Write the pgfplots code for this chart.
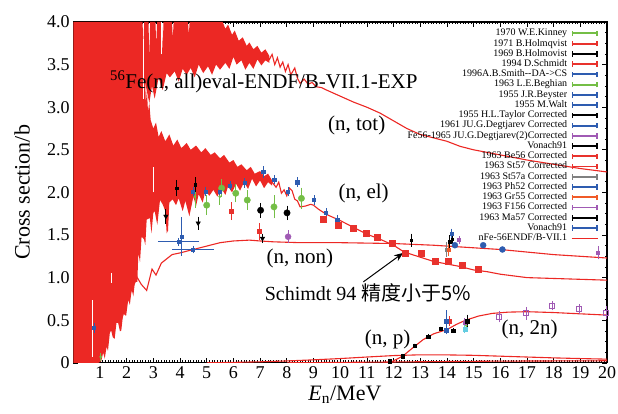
\documentclass[border=0pt]{standalone}
\usepackage{fontspec}
\setmainfont{Liberation Serif}
\newfontfamily\cjk{Noto Sans CJK SC}
\usepackage{pgfplots}
\pgfplotsset{compat=1.18}
\usetikzlibrary{arrows.meta}
\definecolor{endf}{RGB}{236,40,36}
\definecolor{cgreen}{RGB}{116,190,70}
\definecolor{cred}{RGB}{232,50,45}
\definecolor{cblue}{RGB}{46,92,176}
\definecolor{cpurple}{RGB}{160,90,180}
\definecolor{cgray}{RGB}{128,128,128}
\definecolor{corange}{RGB}{240,90,40}
\definecolor{ccyan}{RGB}{100,205,225}
\pgfplotsset{
  eb/.style={error bars/.cd, y dir=both, y explicit,
    error bar style={line width=0.8pt, solid},
    error mark options={line width=0.8pt, mark size=2.2pt}},
  ebxy/.style={error bars/.cd, x dir=both, x explicit, y dir=both, y explicit,
    error bar style={line width=0.8pt, solid},
    error mark options={line width=0.8pt, mark size=2.2pt}},
}
\begin{document}
\begin{tikzpicture}
\begin{axis}[name=ax, scale only axis, width=534pt, height=341pt,
  xmin=0, xmax=20, ymin=0, ymax=4,
  xtick={1,2,...,20}, ytick={0,0.5,1,1.5,2,2.5,3,3.5,4},
  yticklabels={0,0.5,1.0,1.5,2.0,2.5,3.0,3.5,4.0},
  minor x tick num=9, minor y tick num=3,
  tick align=inside, tick pos=both,
  major tick length=5pt, minor tick length=2.5pt,
  axis line style={line width=1.2pt},
  every tick/.style={black, line width=0.6pt},
  tick label style={font=\fontsize{18}{18}\selectfont},
  /pgf/number format/assume math mode=true,
  xlabel={\textit{E}\textsubscript{n}/MeV},
  ylabel={Cross section/b},
  label style={font=\fontsize{22}{22}\selectfont},
  xlabel style={at={(axis description cs:0.509,-0.094)}, anchor=center},
  ylabel style={at={(axis description cs:-0.096,0.5)}, anchor=center},
  legend style={at={(axis description cs:0.99,0.988)}, anchor=north east,
    draw=none, fill=none, font=\fontsize{10}{10}\selectfont,
    nodes={inner sep=0.5pt, text height=7pt, text depth=2.25pt},
    row sep=0pt, column sep=3pt},
  legend cell align=right,
  legend plot pos=right,
  legend image code/.code={
    \draw[#1, line width=1.8pt] (0pt,0pt) -- (26pt,0pt);
    \draw[#1, line width=1.5pt] (0.75pt,-2.7pt) -- (0.75pt,2.7pt) (25.25pt,-2.7pt) -- (25.25pt,2.7pt);},
]
% legend
\addlegendimage{draw=cgreen}\addlegendentry{1970 W.E.Kinney}
\addlegendimage{draw=cred}\addlegendentry{1971 B.Holmqvist}
\addlegendimage{draw=black}\addlegendentry{1969 B.Holmovist}
\addlegendimage{draw=cred}\addlegendentry{1994 D.Schmidt}
\addlegendimage{draw=cblue}\addlegendentry{1996A.B.Smith{-}{-}DA{-}>CS}
\addlegendimage{draw=cgreen}\addlegendentry{1963 L.E.Beghian}
\addlegendimage{draw=cblue}\addlegendentry{1955 J.R.Beyster}
\addlegendimage{draw=cblue}\addlegendentry{1955 M.Walt}
\addlegendimage{draw=black}\addlegendentry{1955 H.L.Taylor Corrected}
\addlegendimage{draw=cblue}\addlegendentry{1961 JU.G.Degtjarev Corrected}
\addlegendimage{draw=cpurple}\addlegendentry{Fe56-1965 JU.G.Degtjarev(2)Corrected}
\addlegendimage{draw=black}\addlegendentry{Vonach91}
\addlegendimage{draw=cred}\addlegendentry{1963 Be56 Corrected}
\addlegendimage{draw=cred}\addlegendentry{1963 St57 Corrected}
\addlegendimage{draw=cgray}\addlegendentry{1963 St57a Corrected}
\addlegendimage{draw=cblue}\addlegendentry{1963 Ph52 Corrected}
\addlegendimage{draw=corange}\addlegendentry{1963 Gr55 Corrected}
\addlegendimage{draw=cpurple}\addlegendentry{1963 F156 Corrected}
\addlegendimage{draw=black}\addlegendentry{1963 Ma57 Corrected}
\addlegendimage{draw=cblue}\addlegendentry{Vonach91}
\addlegendimage{legend image code/.code={\draw[endf, line width=1.4pt] (0pt,0pt) -- (26pt,0pt);}}\addlegendentry{nFe-56ENDF/B-VII.1}

% resonance region: solid + elastic band
\addplot[fill=endf, draw=none, forget plot] coordinates {
(0,0) (0,4) (2.55,4) (2.58,3.55) (2.6,3.7) (2.64,3.3) (2.68,3.45) (2.72,3.05) (2.76,3.2) (2.8,2.95) (2.85,3.05) (2.9,2.85) (3.0,2.75) (3.1,2.82) (3.2,2.65) (3.3,2.72) (3.45,2.6) (3.6,2.68) (3.75,2.55) (3.9,2.62) (4.05,2.52) (4.25,2.58) (4.4,2.5) (4.6,2.55) (4.8,2.47) (4.95,2.52) (5.15,2.44) (5.3,2.47) (5.5,2.4) (5.65,2.44) (5.85,2.35) (6.0,2.38) (6.15,2.3) (6.3,2.33) (6.5,2.26) (6.65,2.3) (6.8,2.22) (7.0,2.25) (7.15,2.19) (7.3,2.22) (7.45,2.14)
(7.45,2.08) (7.3,2.12) (7.15,2.05) (7.0,2.14) (6.85,2.07) (6.7,2.16) (6.55,2.04) (6.4,2.12) (6.25,2.02) (6.1,2.1) (5.95,2.0) (5.8,2.07) (5.7,1.97) (5.55,2.05) (5.4,1.95) (5.25,2.03) (5.1,1.96) (4.95,2.02) (4.85,1.88) (4.7,1.98) (4.6,1.84) (4.5,1.95) (4.35,1.72) (4.2,1.9) (4.1,1.78) (3.95,1.93) (3.85,1.85) (3.72,1.92) (3.6,1.88) (3.55,1.55) (3.5,1.52) (3.45,1.78) (3.35,1.86) (3.25,1.91) (3.15,1.62) (3.05,1.78) (3.0,1.76) (2.93,1.52) (2.87,1.7) (2.75,1.68) (2.7,1.38) (2.65,1.45) (2.56,1.48) (2.5,1.18) (2.44,1.29) (2.4,0.95) (2.31,0.95) (2.25,0.78) (2.19,0.86) (2.12,0.68) (2.06,0.74) (1.98,0.55) (1.87,0.58) (1.8,0.38) (1.75,0.37) (1.68,0.47) (1.62,0.47) (1.55,0.28) (1.48,0.3) (1.42,0.38) (1.37,0.35) (1.3,0.14) (1.25,0.19) (1.18,0.05) (1.12,0.12) (1.05,0.02) (0.95,0)
};
% total band
\addplot[fill=endf, draw=none, forget plot] coordinates {
(2.5,4) (2.6,4) (2.62,3.65) (2.66,4) (2.82,4) (2.85,3.55) (2.88,4) (3.08,4) (3.11,3.72) (3.14,4) (3.32,4) (3.35,3.62) (3.38,4) (3.7,4) (3.73,3.8) (3.76,4) (4.3,4) (4.33,3.85) (4.36,4) (5.6,4) (5.7,3.92) (5.8,3.97) (5.95,3.85) (6.05,3.9) (6.2,3.78) (6.35,3.82) (6.5,3.72) (6.6,3.76) (6.75,3.68) (6.9,3.72) (7.05,3.64) (7.2,3.68) (7.35,3.6)
(7.35,3.52) (7.2,3.55) (7.05,3.49) (6.9,3.56) (6.75,3.45) (6.6,3.52) (6.45,3.44) (6.3,3.55) (6.12,3.5) (6.0,3.59) (5.85,3.45) (5.7,3.52) (5.5,3.44) (5.35,3.5) (5.2,3.38) (5.05,3.48) (4.87,3.4) (4.7,3.5) (4.55,3.35) (4.4,3.46) (4.25,3.38) (4.1,3.45) (3.95,3.3) (3.8,3.42) (3.62,3.35) (3.5,3.4) (3.35,3.2) (3.2,3.35) (3.05,3.1) (2.95,3.25) (2.85,3.05) (2.75,3.2) (2.65,3.35) (2.55,3.6)
};
% white streaks
\addplot[white, line width=0.8pt, forget plot] coordinates {(0.73,0.07) (0.73,0.74)};
\addplot[white, line width=0.6pt, forget plot] coordinates {(1.44,0.94) (1.44,1.05)};
\addplot[white, line width=0.6pt, forget plot] coordinates {(3.0,2.0) (3.0,2.3)};
\addplot[white, line width=0.6pt, forget plot] coordinates {(3.3,3.62) (3.3,4.0)};
\addplot[white, line width=0.6pt, forget plot] coordinates {(2.62,3.1) (2.62,3.8)};

% evaluated curves
\addplot[endf, line width=1.1pt, forget plot] coordinates {
(7.3,3.58) (7.35,3.56) (7.45,3.62) (7.55,3.5) (7.65,3.58) (7.75,3.47) (7.85,3.53) (7.95,3.42) (8.05,3.5) (8.15,3.38) (8.3,3.46) (8.4,3.34) (8.5,3.28) (8.65,3.33) (8.8,3.27) (8.95,3.29) (9.1,3.24) (9.3,3.23) (9.5,3.2) (10,3.13) (10.5,3.06) (11,3.0) (11.5,2.93) (12,2.84) (12.5,2.75) (13,2.68) (13.5,2.64) (14,2.6) (14.5,2.54) (15,2.5) (16,2.44) (17,2.38) (18,2.33) (19,2.28) (20,2.24)};
\addplot[endf, line width=1.1pt, forget plot] coordinates {
(7.4,2.1) (7.45,2.12) (7.6,2.06) (7.7,2.12) (7.8,1.99) (7.9,2.03) (8.0,1.96) (8.1,2.05) (8.2,2.02) (8.3,1.92) (8.4,1.9) (8.5,1.83) (8.7,1.84) (8.9,1.86) (9.0,1.85) (9.2,1.8) (9.5,1.74) (10,1.67) (10.5,1.59) (11,1.51) (11.5,1.45) (12,1.38) (12.4,1.3) (13,1.24) (13.5,1.19) (14,1.16) (14.5,1.13) (15,1.09) (15.5,1.07) (16,1.04) (16.5,1.02) (17,1.0) (18,0.99) (19,0.98) (20,0.97)};
\addplot[endf, line width=1.1pt, forget plot] coordinates {
(1.8,0.5) (2.0,0.7) (2.2,0.87) (2.4,1.0) (2.55,0.92) (2.75,0.85) (2.95,1.1) (3.1,1.03) (3.3,1.17) (3.5,1.22) (3.7,1.27) (4.0,1.29) (4.5,1.33) (5.0,1.37) (5.5,1.41) (6.0,1.43) (6.6,1.44) (7.0,1.43) (7.5,1.42) (8.5,1.41) (10,1.41) (12,1.4) (13.5,1.38) (15,1.35) (16,1.33) (17,1.3) (18,1.27) (19,1.25) (20,1.23)};
\addplot[endf, line width=1.1pt, forget plot] coordinates {
(5,0.0) (6,0.005) (7,0.012) (8,0.022) (9,0.035) (10,0.05) (11,0.068) (12,0.085) (13,0.094) (14,0.093) (15,0.088) (16,0.078) (17,0.068) (18,0.058) (19,0.05) (20,0.043)};
\addplot[endf, line width=1.1pt, forget plot] coordinates {
(8,0.0) (10,0.005) (12,0.01) (14,0.015) (16,0.02) (18,0.022) (20,0.024)};
\addplot[endf, line width=1.1pt, forget plot] coordinates {
(11.6,0.0) (11.86,0.0) (12.35,0.08) (12.7,0.17) (13.1,0.27) (13.5,0.34) (14,0.39) (14.35,0.45) (14.7,0.5) (15.2,0.55) (15.7,0.58) (16.3,0.595) (17,0.6) (18,0.59) (19,0.575) (20,0.56)};

% ---- experimental data ----
% Kinney 1970
\addplot[cgreen, only marks, mark=*, mark size=3.2pt, forget plot, eb] table[row sep=\\, x=x, y=y, y error=e] {
x y e \\ 5.00 1.85 0.09 \\ 5.56 2.05 0.08 \\ 6.09 1.99 0.08 \\ 6.52 1.91 0.09 \\ 7.52 1.83 0.11 \\ 8.55 1.93 0.10 \\};
% Beghian 1963
\addplot[cgreen, only marks, mark=*, mark size=1.2pt, forget plot, eb] table[row sep=\\, x=x, y=y, y error=e] {
x y e \\ 4.56 1.95 0.11 \\ 5.49 1.95 0.07 \\ 1.03 0.07 0.02 \\ 14.72 0.44 0.03 \\};
% Holmqvist 1971
\addplot[cred, only marks, mark=square*, mark size=2pt, forget plot, eb] table[row sep=\\, x=x, y=y, y error=e] {
x y e \\ 5.91 1.78 0.08 \\ 6.97 1.54 0.07 \\ 14.10 0.49 0.03 \\};
% Holmovist 1969
\addplot[black, only marks, mark=triangle*, mark options={rotate=180}, mark size=2.6pt, forget plot, eb] table[row sep=\\, x=x, y=y, y error=e] {
x y e \\ 3.47 1.72 0.06 \\ 4.68 1.64 0.05 \\ 7.09 1.46 0.03 \\};
% Schmidt 1994
\addplot[cred, only marks, mark=square*, mark size=3pt, forget plot] table[row sep=\\, x=x, y=y] {
x y \\ 9.36 1.69 \\ 9.93 1.62 \\ 10.49 1.58 \\ 10.99 1.52 \\ 11.40 1.47 \\ 11.95 1.40 \\ 12.42 1.29 \\ 13.05 1.29 \\ 13.58 1.19 \\ 14.05 1.19 \\ 14.57 1.15 \\ 15.17 1.10 \\};
% Smith 1996
\addplot[cblue, only marks, mark=square*, mark size=1.6pt, forget plot, eb] table[row sep=\\, x=x, y=y, y error=e] {
x y e \\ 4.49 2.01 0.03 \\ 4.96 2.01 0.03 \\ 5.49 2.01 0.03 \\ 5.87 2.08 0.03 \\ 6.43 2.11 0.03 \\ 7.12 2.24 0.04 \\ 7.53 2.15 0.03 \\ 8.05 2.01 0.03 \\ 8.39 2.12 0.03 \\ 9.02 1.91 0.03 \\ 9.47 1.76 0.03 \\ 9.89 1.68 0.03 \\ 14.17 1.52 0.03 \\ 0.78 0.41 0.03 \\};
% Beyster 1955
\addplot[cblue, only marks, mark=square*, mark size=1.6pt, forget plot, ebxy] table[row sep=\\, x=x, y=y, x error=ex, y error=ey] {
x y ex ey \\ 4.06 1.48 0 0.20 \\ 3.94 1.42 0.69 0.02 \\ 4.49 1.33 0.69 0.02 \\};
% Ma57 / black bars
\addplot[black, only marks, mark=square*, mark size=1.2pt, forget plot, eb] table[row sep=\\, x=x, y=y, y error=e] {
x y e \\ 3.87 2.05 0.07 \\ 4.56 2.09 0.06 \\ 12.67 1.44 0.05 \\ 14.11 1.42 0.05 \\ 14.20 1.45 0.03 \\};
% Taylor
\addplot[black, only marks, mark=*, mark size=3.2pt, forget plot, eb] table[row sep=\\, x=x, y=y, y error=e] {
x y e \\ 7.02 1.79 0.06 \\ 8.01 1.76 0.06 \\};
% Degtjarev(2)
\addplot[cpurple, only marks, mark=*, mark size=3pt, forget plot, eb] table[row sep=\\, x=x, y=y, y error=e] {
x y e \\ 8.05 1.48 0.05 \\};
\addplot[cpurple, only marks, mark=square*, mark size=1.5pt, forget plot, eb] table[row sep=\\, x=x, y=y, y error=e] {
x y e \\ 19.66 1.29 0.05 \\ 14.46 1.44 0.02 \\ 14.67 0.47 0.03 \\};
% Vonach91 blue
\addplot[cblue, only marks, mark=*, mark size=3pt, forget plot] table[row sep=\\, x=x, y=y] {
x y \\ 14.30 1.38 \\ 15.36 1.38 \\ 16.08 1.33 \\};
% St57a gray, Gr55 orange
\addplot[cgray, only marks, mark=square*, mark size=1.5pt, forget plot, eb] table[row sep=\\, x=x, y=y, y error=e] {
x y e \\ 13.98 1.33 0.06 \\};
\addplot[corange, only marks, mark=square*, mark size=1.5pt, forget plot, eb] table[row sep=\\, x=x, y=y, y error=e] {
x y e \\ 14.07 1.33 0.05 \\};
% (n,p) black
\addplot[black, only marks, mark=square*, mark size=1.7pt, forget plot, eb] table[row sep=\\, x=x, y=y, y error=e] {
x y e \\ 11.86 0.02 0 \\ 12.34 0.08 0 \\ 12.80 0.20 0 \\ 13.30 0.31 0 \\ 13.76 0.40 0 \\ 14.23 0.38 0 \\ 14.76 0.49 0.05 \\};
% (n,p) blue
\addplot[cblue, only marks, mark=square*, mark size=2pt, forget plot, eb] table[row sep=\\, x=x, y=y, y error=e] {
x y e \\ 13.98 0.49 0.10 \\ 13.98 0.38 0.02 \\};
\addplot[ccyan, only marks, mark=square*, mark size=2pt, forget plot, eb] table[row sep=\\, x=x, y=y, y error=e] {
x y e \\ 14.67 0.40 0.02 \\};
% (n,2n) purple open squares
\addplot[cpurple, only marks, mark=square, mark size=2.5pt, mark options={line width=1pt}, forget plot, eb] table[row sep=\\, x=x, y=y, y error=e] {
x y e \\ 15.96 0.54 0.04 \\ 16.98 0.58 0.05 \\ 17.95 0.67 0.03 \\ 18.95 0.63 0.03 \\ 19.97 0.59 0.05 \\};

% labels
\node[font=\fontsize{21}{21}\selectfont] at (axis cs:7.14,3.30) {\textsuperscript{56}Fe(n, all)eval-ENDF/B-VII.1-EXP};
\node[font=\fontsize{21}{21}\selectfont] at (axis cs:10.62,2.79) {(n, tot)};
\node[font=\fontsize{21}{21}\selectfont] at (axis cs:10.88,1.99) {(n, el)};
\node[font=\fontsize{21}{21}\selectfont] at (axis cs:8.49,1.23) {(n, non)};
\node[font=\fontsize{20}{20}\selectfont] at (axis cs:11.04,0.82) {Schimdt 94 {\cjk 精度小于5\%}};
\node[font=\fontsize{21}{21}\selectfont] at (axis cs:11.78,0.27) {(n, p)};
\node[font=\fontsize{21}{21}\selectfont] at (axis cs:17.1,0.39) {(n, 2n)};
\draw[-{Stealth[length=9pt,width=7pt]}, line width=1pt] (axis cs:10.87,0.95) -- (axis cs:12.36,1.29);
\end{axis}
\pgfresetboundingbox
\path[use as bounding box] ([xshift=-73.3pt,yshift=-51pt]ax.south west) rectangle ([xshift=11pt,yshift=22pt]ax.north east);
\end{tikzpicture}
\end{document}
